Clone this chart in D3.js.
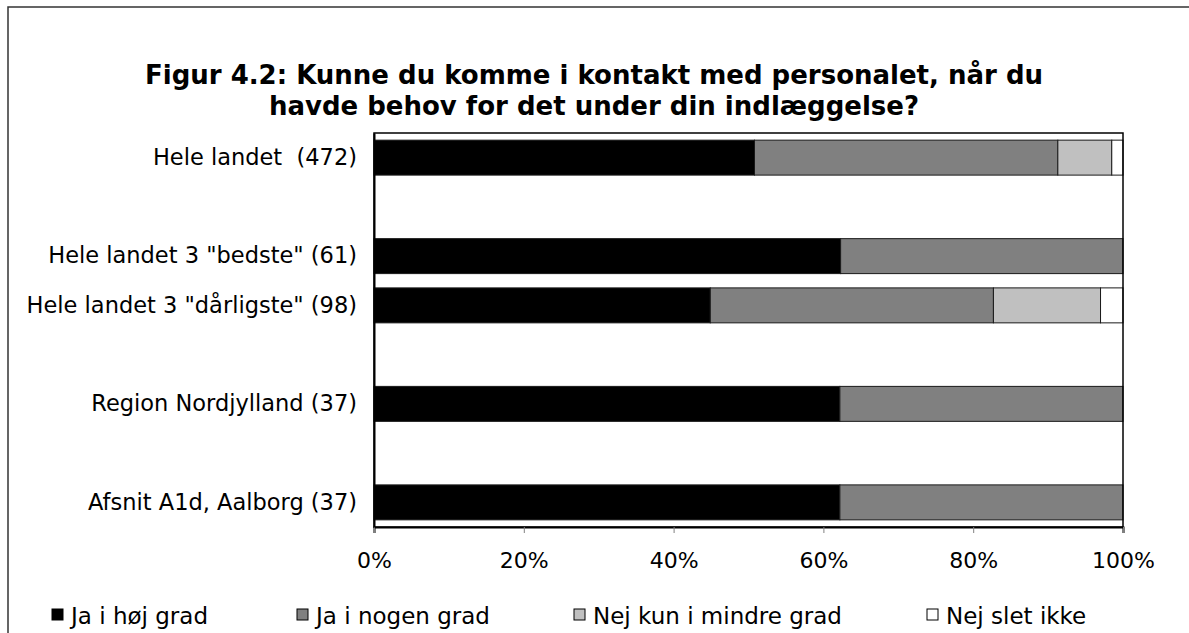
<!DOCTYPE html>
<html>
<head>
<meta charset="utf-8">
<script src="https://cdn.jsdelivr.net/npm/d3@7"></script>
<style>
  body { margin: 0; background: #fff; }
  text { font-family: "DejaVu Sans", Verdana, sans-serif; }
</style>
</head>
<body>
<div class="chart_area"></div>
<script>
// categories (blank strings are the empty rows of the original chart)
var categories = ["Hele landet  (472)", "", "Hele landet 3 \"bedste\" (61)",
                  "Hele landet 3 \"dårligste\" (98)", "", "Region Nordjylland (37)", "",
                  "Afsnit A1d, Aalborg (37)"];
var series_names = ["Ja i høj grad", "Ja i nogen grad", "Nej kun i mindre grad", "Nej slet ikke"];
var ja_hoej   = [50.8, 0, 62.3, 44.9, 0, 62.2, 0, 62.2];
var ja_nogen  = [40.5, 0, 37.7, 37.8, 0, 37.8, 0, 37.8];
var nej_mindre = [7.2, 0, 0, 14.3, 0, 0, 0, 0];
var nej_slet  = [1.5, 0, 0, 3.0, 0, 0, 0, 0];
var x_ticks = [0, 20, 40, 60, 80, 100];
var colors = ["#000000", "#808080", "#c0c0c0", "#ffffff"];

var W = 1189, H = 633;
var margin = { top: 133, right: 66, bottom: 106, left: 374 },
    width = W - margin.left - margin.right,
    height = H - margin.top - margin.bottom;

var svg = d3.select(".chart_area")
    .append("svg")
    .attr("width", W)
    .attr("height", H);

// outer frame (open to the right and bottom like the cropped original)
svg.append("rect")
    .attr("x", 8).attr("y", 7)
    .attr("width", W).attr("height", H)
    .attr("fill", "none")
    .attr("stroke", "#333")
    .attr("stroke-width", 1.5);

// title
var title = svg.append("text")
    .attr("text-anchor", "middle")
    .style("font-weight", "bold")
    .style("font-size", "26px");
title.append("tspan").attr("x", 594).attr("y", 84)
    .text("Figur 4.2: Kunne du komme i kontakt med personalet, når du");
title.append("tspan").attr("x", 594).attr("y", 115)
    .text("havde behov for det under din indlæggelse?");

var g = svg.append("g")
    .attr("transform", "translate(" + margin.left + "," + margin.top + ")");

var x = d3.scaleLinear().domain([0, 100]).range([0, width]);
var y = d3.scaleBand()
    .domain(d3.range(categories.length))
    .range([0, height])
    .paddingInner(0.29)
    .paddingOuter(0.145);

var table = categories.map(function(c, i) {
    return { cat: i, s0: ja_hoej[i], s1: ja_nogen[i], s2: nej_mindre[i], s3: nej_slet[i] };
});
var stacked = d3.stack().keys(["s0", "s1", "s2", "s3"])(table);

g.append("rect")
    .attr("width", width).attr("height", height)
    .attr("fill", "#fff");

g.selectAll("g.layer")
    .data(stacked)
    .enter().append("g")
    .attr("class", "layer")
    .attr("fill", function(d, i) { return colors[i]; })
    .selectAll("rect")
    .data(function(d) { return d.filter(function(p) { return p[1] - p[0] > 0; }); })
    .enter().append("rect")
    .attr("x", function(d) { return x(d[0]); })
    .attr("width", function(d) { return x(d[1]) - x(d[0]); })
    .attr("y", function(d) { return y(d.data.cat); })
    .attr("height", y.bandwidth())
    .attr("stroke", "#1a1a1a")
    .attr("stroke-width", 1);

// plot border
g.append("rect")
    .attr("width", width).attr("height", height)
    .attr("fill", "none")
    .attr("stroke", "#000")
    .attr("stroke-width", 1.5);

// x axis
var xAxis = g.append("g")
    .attr("transform", "translate(0," + height + ")")
    .call(d3.axisBottom(x).tickValues(x_ticks).tickSize(6).tickPadding(19)
        .tickFormat(function(d) { return d + "%"; }));
xAxis.select(".domain").attr("stroke", "#000").attr("stroke-width", 2);
xAxis.selectAll(".tick line").attr("stroke", "#808080");
xAxis.selectAll("text")
    .style("font-size", "22px")
    .style("font-family", "DejaVu Sans, Verdana, sans-serif")
    .attr("fill", "#000");

// y axis labels
var yAxis = g.append("g")
    .call(d3.axisLeft(y).tickSize(0).tickPadding(17)
        .tickFormat(function(i) { return categories[i]; }));
yAxis.select(".domain").attr("stroke", "#000").attr("stroke-width", 2);
yAxis.selectAll("text")
    .style("font-size", "22.5px")
    .style("white-space", "pre")
    .style("font-family", "DejaVu Sans, Verdana, sans-serif")
    .attr("fill", "#000");

// legend
var legend_x = [52, 297, 574, 927];
var legend = svg.append("g").selectAll("g")
    .data(series_names)
    .enter().append("g")
    .attr("transform", function(d, i) { return "translate(" + legend_x[i] + ",609)"; });
legend.append("rect")
    .attr("width", 11).attr("height", 11)
    .attr("fill", function(d, i) { return colors[i]; })
    .attr("stroke", "#000");
legend.append("text")
    .attr("x", 19).attr("y", 15)
    .style("font-size", "23px")
    .text(function(d) { return d; });
</script>
</body>
</html>
